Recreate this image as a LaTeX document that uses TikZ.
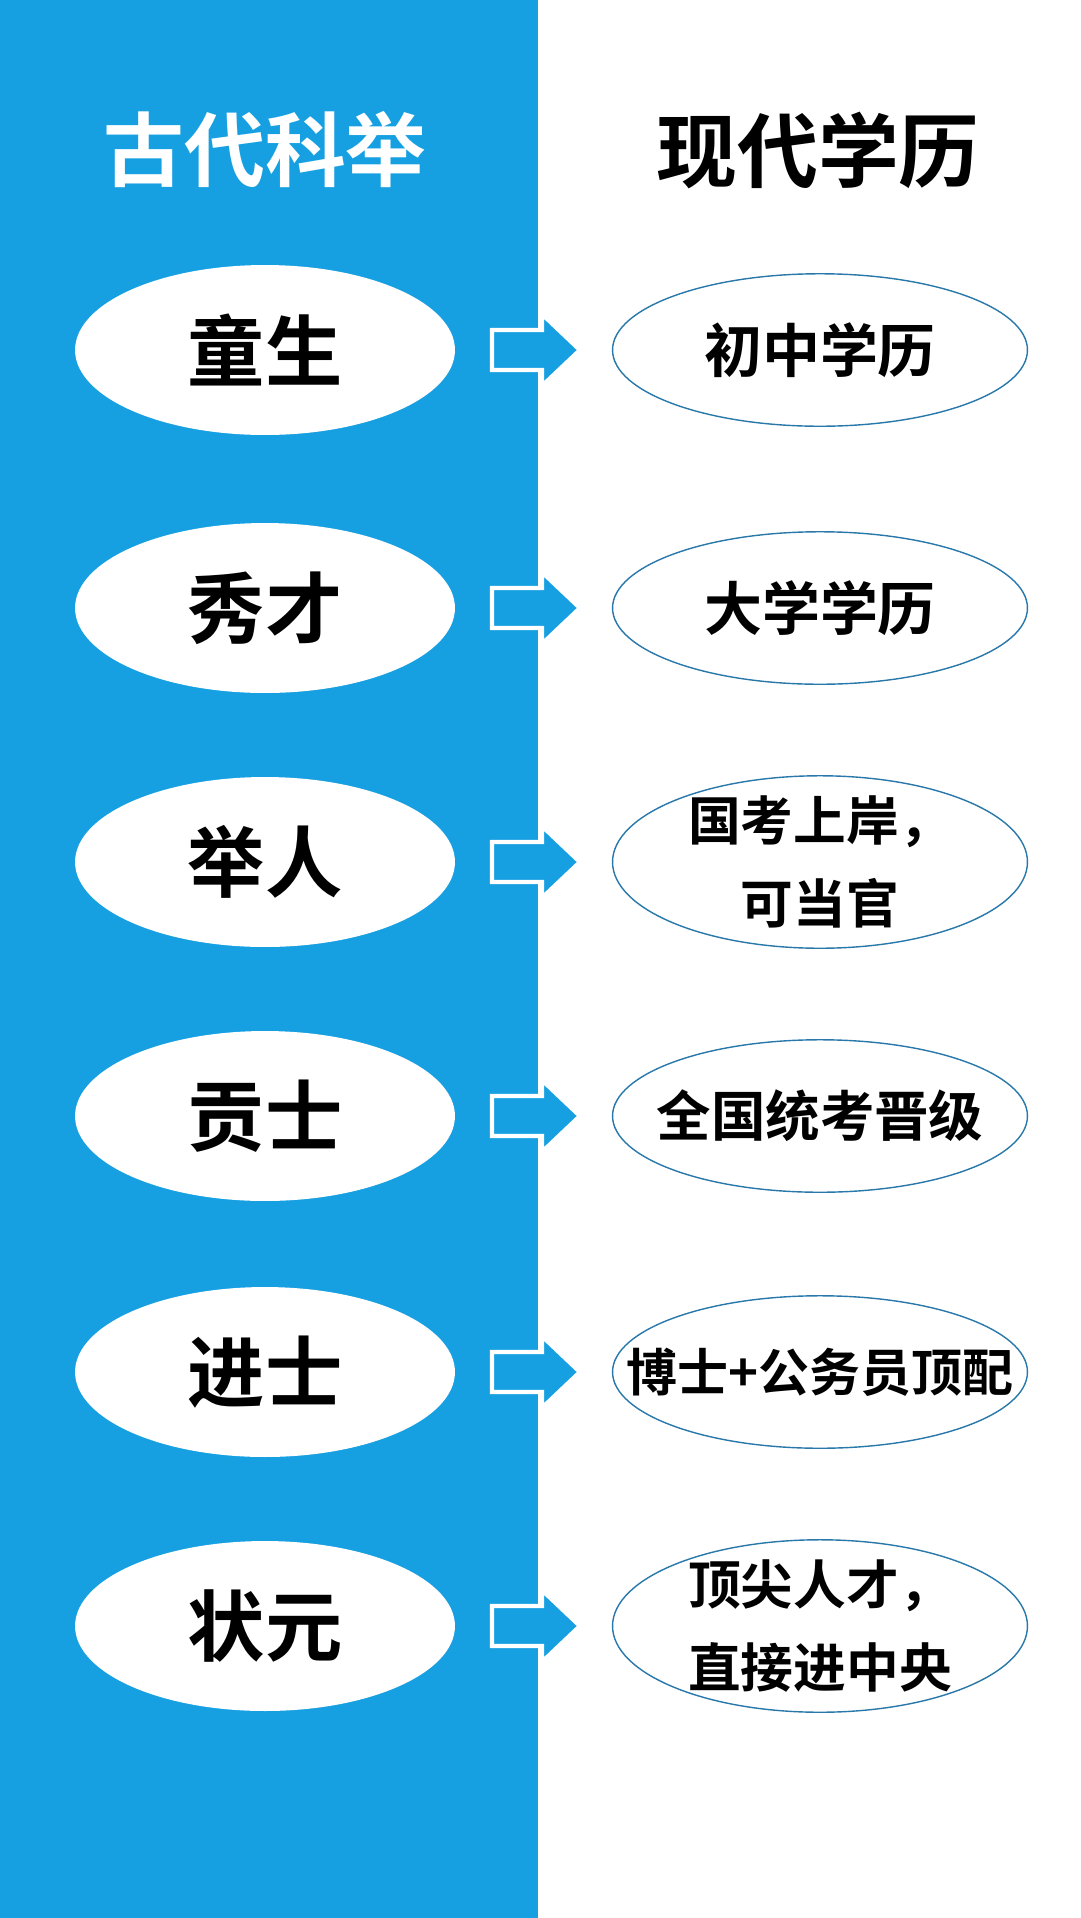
\documentclass[tikz,border=0pt]{standalone}
\usepackage{fontspec}
\setmainfont{Noto Sans CJK SC}[BoldFont={* Bold}]
\usetikzlibrary{shapes.geometric}
\definecolor{panel}{RGB}{22,160,226}
\definecolor{rim}{RGB}{40,120,170}
\tikzstyle{old} = [ellipse, fill=white, inner sep=0pt, minimum width=7.6cm, minimum height=3.4cm, font=\bfseries\fontsize{44}{48}\selectfont]
\tikzstyle{new} = [ellipse, fill=white, draw=rim, line width=0.8pt, inner sep=0pt, minimum width=8.3cm, minimum height=3.05cm, align=center, font=\bfseries\fontsize{33}{51}\selectfont]
\tikzstyle{twoline} = [inner ysep=-1cm, minimum height=3.45cm, font=\bfseries\fontsize{30}{47}\selectfont]
\tikzstyle{long} = [inner xsep=-1.3cm, font=\bfseries\fontsize{29}{36}\selectfont]
\newcommand{\blockarrow}[1]{\draw[fill=panel, draw=white, line width=2.5pt] (492,#1-20) -- (542,#1-20) -- (542,#1-36) -- (580,#1) -- (542,#1+36) -- (542,#1+20) -- (492,#1+20) -- cycle;}

\begin{document}
\begin{tikzpicture}[x=0.02cm, y=-0.02cm]
	\useasboundingbox (0,0) rectangle (1080,1918);
	\fill[white] (0,0) rectangle (1080,1918);
	\fill[panel] (0,0) rectangle (538,1918);
	\node[text=white, font=\bfseries\fontsize{46}{50}\selectfont] (t1) at (265,150) {古代科举};
	\node[font=\bfseries\fontsize{46}{50}\selectfont] (t2) at (818,150) {现代学历};
	% rows
	\node[old] (a1) at (265,350) {童生};  \node[new] (b1) at (820,350) {初中学历};
	\node[old] (a2) at (265,608) {秀才};  \node[new] (b2) at (820,608) {大学学历};
	\node[old] (a3) at (265,862) {举人};  \node[new, twoline] (b3) at (820,862) {国考上岸，\\可当官};
	\node[old] (a4) at (265,1116) {贡士}; \node[new, long, font=\bfseries\fontsize{31}{36}\selectfont] (b4) at (820,1116) {全国统考晋级};
	\node[old] (a5) at (265,1372) {进士}; \node[new, long] (b5) at (820,1372) {博士+公务员顶配};
	\node[old] (a6) at (265,1626) {状元}; \node[new, twoline] (b6) at (820,1626) {顶尖人才，\\直接进中央};
	\foreach \y in {350,608,862,1116,1372,1626} {\blockarrow{\y}}
\end{tikzpicture}
\end{document}
